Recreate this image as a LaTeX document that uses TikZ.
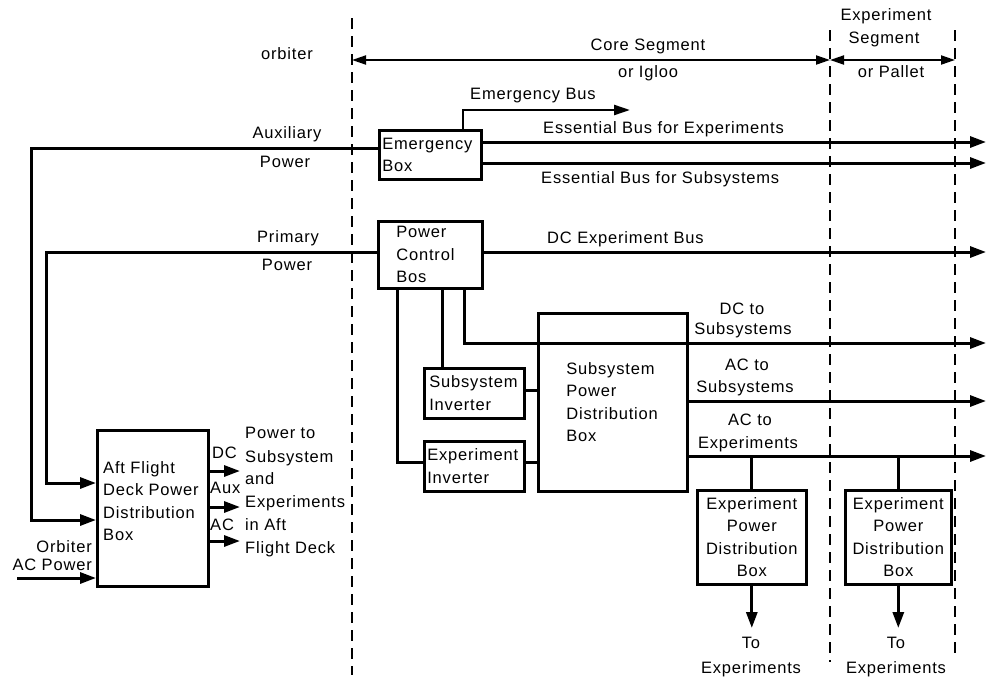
\documentclass[tikz,border=0pt]{standalone}
\usepackage{fontspec}
\setmainfont{Liberation Sans}[LetterSpace=5]
\usetikzlibrary{arrows.meta}
\begin{document}
\begin{tikzpicture}[x=1pt,y=-1pt,
  font=\fontsize{16.5}{22.5}\selectfont,
  bus/.style={line width=3pt},
  busarrow/.style={line width=3pt,-{Triangle[length=16pt,width=11pt]}},
  thinarrow/.style={line width=2.4pt,-{Triangle[length=16pt,width=10pt]}},
  box/.style={draw,line width=2.6pt,inner ysep=0pt,align=left,anchor=north west},
  cbox/.style={draw,line width=2.6pt,inner ysep=0pt,inner xsep=3pt,align=center,anchor=north west},
  lbl/.style={inner sep=0pt,anchor=base},
  lblw/.style={inner sep=0pt,anchor=base west},
  lble/.style={inner sep=0pt,anchor=base east},
  dim/.style={line width=2pt,{Triangle[length=14pt,width=9pt]}-{Triangle[length=14pt,width=9pt]}},
  seg/.style={line width=2pt,dash pattern=on 11pt off 7pt}]
\useasboundingbox (0,0) rectangle (987,678);

% boundaries
\coordinate (da1) at (352,18);  \coordinate (da2) at (352,675);
\coordinate (db1) at (830,30);  \coordinate (db2) at (830,662);
\coordinate (dc1) at (955,30);  \coordinate (dc2) at (955,660);
\draw[seg] (da1) -- (da2);
\draw[seg] (db1) -- (db2);
\draw[seg] (dc1) -- (dc2);
\coordinate (d1) at (352,60); \coordinate (d2) at (830,60); \coordinate (d3) at (955,60);
\draw[dim] (d1) -- (d2);
\draw[dim] (d2) -- (d3);

\node[lbl] (orb) at (287,59) {orbiter};
\node[lbl] (core1) at (648,50) {Core Segment};
\node[lbl] (core2) at (648,77) {or Igloo};
\node[lbl] (exs1) at (886,20) {Experiment};
\node[lbl] (exs2) at (884,43) {Segment};
\node[lbl] (exs3) at (891,77) {or Pallet};

% boxes
\node[box,minimum width=102pt,minimum height=49pt,inner xsep=3pt,text width=96pt] (emb) at (378,129) {Emergency\\Box};
\node[box,minimum width=104pt,minimum height=67pt,inner xsep=18pt,text width=68pt] (pcb) at (377,220) {Power\\Control\\Bos};
\node[box,minimum width=100pt,minimum height=50pt,inner xsep=5pt,text width=90pt] (si) at (423,367) {Subsystem\\Inverter};
\node[box,minimum width=100pt,minimum height=50pt,inner xsep=3pt,text width=94pt] (ei) at (423,440) {Experiment\\Inverter};
\node[box,minimum width=149pt,minimum height=178pt,inner xsep=28pt,text width=93pt] (spdb) at (537,312) {Subsystem\\Power\\Distribution\\Box};
\node[box,minimum width=111pt,minimum height=156pt,inner sep=0pt] (aft) at (96,429) {};
\node[inner sep=0pt,anchor=north west,align=left] (afttxt) at (103,461) {Aft Flight\\Deck Power\\Distribution\\Box};
\node[cbox,minimum width=109pt,minimum height=94pt,text width=103pt] (ep1) at (696,489) {Experiment\\Power\\Distribution\\Box};
\node[cbox,minimum width=106pt,minimum height=94pt,text width=100pt] (ep2) at (844,489) {Experiment\\Power\\Distribution\\Box};

% auxiliary & primary power
\coordinate (auxC) at (31,148); \coordinate (auxE) at (96,520);
\draw[busarrow] (emb.west |- auxC) -- (auxC) |- (aft.west |- auxE);
\coordinate (priC) at (46,252); \coordinate (priE) at (96,483);
\draw[busarrow] (pcb.west |- priC) -- (priC) |- (aft.west |- priE);
\coordinate (orbS) at (17,578);
\draw[busarrow] (orbS) -- (aft.west |- orbS);
\node[lbl] (aux1) at (287,138) {Auxiliary};
\node[lbl] (aux2) at (285,167) {Power};
\node[lbl] (pri1) at (288,242) {Primary};
\node[lbl] (pri2) at (287,270) {Power};
\node[lble] (oac1) at (92,552) {Orbiter};
\node[lble] (oac2) at (92,570) {AC Power};

% aft outputs
\coordinate (o1) at (240,471); \coordinate (o2) at (240,507); \coordinate (o3) at (240,541);
\draw[busarrow] (aft.east |- o1) -- (o1);
\draw[busarrow] (aft.east |- o2) -- (o2);
\draw[busarrow] (aft.east |- o3) -- (o3);
\node[lblw] (odc) at (212,458) {DC};
\node[lblw] (oaux) at (210,493) {Aux};
\node[lblw] (oac) at (210,530) {AC};
\node[lblw] (pt1) at (245,438) {Power to};
\node[lblw] (pt2) at (245,462) {Subsystem};
\node[lblw] (pt3) at (245,484) {and};
\node[lblw] (pt4) at (245,507) {Experiments};
\node[lblw] (pt5) at (245,530) {in Aft};
\node[lblw] (pt6) at (245,553) {Flight Deck};

% emergency box outputs
\coordinate (ebC) at (463,110); \coordinate (ebE) at (630,110);
\draw[thinarrow] (emb.north -| ebC) |- (ebE);
\node[lblw] (ebl) at (470,99) {Emergency Bus};
\coordinate (eeE) at (986,142);
\draw[busarrow] (emb.east |- eeE) -- (eeE);
\node[lblw] (eel) at (543,133) {Essential Bus for Experiments};
\coordinate (esE) at (986,163);
\draw[busarrow] (emb.east |- esE) -- (esE);
\node[lblw] (esl) at (541,183) {Essential Bus for Subsystems};

% power control box outputs
\coordinate (dceE) at (986,252);
\draw[busarrow] (pcb.east |- dceE) -- (dceE);
\node[lblw] (dcel) at (547,243) {DC Experiment Bus};
\coordinate (v1) at (397,462);
\draw[bus] (pcb.south -| v1) |- (ei.west |- v1);
\coordinate (v2) at (442,0);
\draw[bus] (pcb.south -| v2) -- (si.north -| v2);
\coordinate (v3) at (464,343); \coordinate (dcsE) at (986,343);
\draw[busarrow] (pcb.south -| v3) |- (dcsE);
\node[lbl] (dcs1) at (742,314) {DC to};
\node[lbl] (dcs2) at (743,334) {Subsystems};

% inverters to SPDB
\coordinate (siy) at (0,390);
\draw[bus] (si.east |- siy) -- (spdb.west |- siy);
\draw[bus] (ei.east |- v1) -- (spdb.west |- v1);

% SPDB outputs
\coordinate (acsE) at (986,401);
\draw[busarrow] (spdb.east |- acsE) -- (acsE);
\node[lbl] (acs1) at (747,370) {AC to};
\node[lbl] (acs2) at (745,392) {Subsystems};
\coordinate (aceE) at (986,456);
\draw[busarrow] (spdb.east |- aceE) -- (aceE);
\node[lbl] (ace1) at (750,425) {AC to};
\node[lbl] (ace2) at (748,448) {Experiments};

% experiment power distribution boxes
\draw[bus] (ep1.north |- aceE) -- (ep1.north);
\draw[bus] (ep2.north |- aceE) -- (ep2.north);
\coordinate (t1) at (0,628);
\draw[busarrow] (ep1.south) -- (ep1.south |- t1);
\draw[busarrow] (ep2.south) -- (ep2.south |- t1);
\node[lbl] (to1a) at (751,648) {To};
\node[lbl] (to1b) at (751,673) {Experiments};
\node[lbl] (to2a) at (896,648) {To};
\node[lbl] (to2b) at (896,673) {Experiments};
\end{tikzpicture}
\end{document}
